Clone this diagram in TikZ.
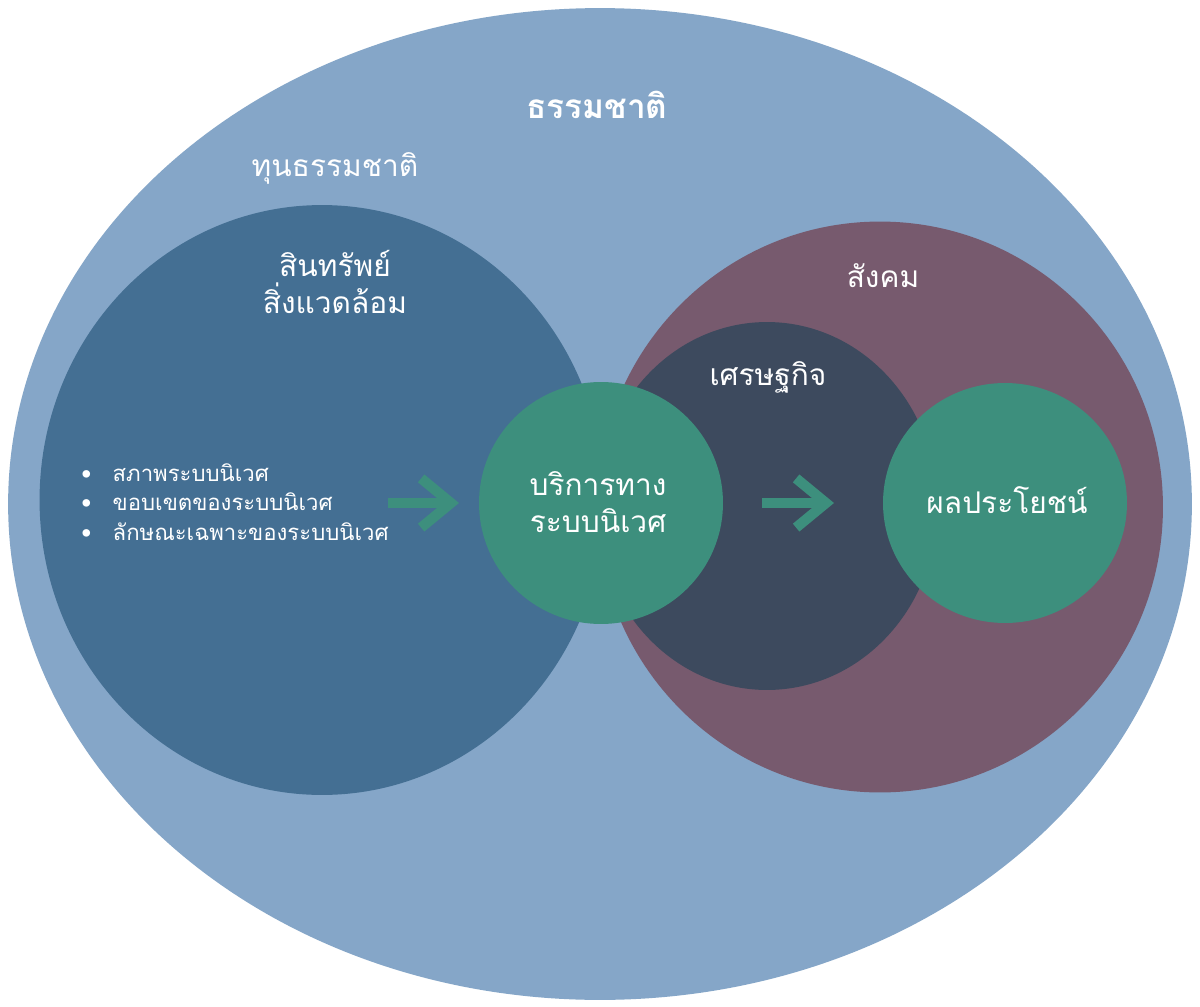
\documentclass[tikz,border=0pt]{standalone}
\usepackage{fontspec}
\usetikzlibrary{shapes.geometric,arrows.meta}
\newfontfamily\thai[Script=Thai]{Loma}
\definecolor{natbg}{HTML}{85A6C8}
\definecolor{envc}{HTML}{446F93}
\definecolor{socc}{HTML}{775A6E}
\definecolor{ecoc}{HTML}{3D4A5E}
\definecolor{grnc}{HTML}{3D8F7D}
\tikzset{
  blob/.style={ellipse, inner sep=0pt, draw=none},
  lbl/.style={text=white, font=\thai\fontsize{17pt}{21pt}\selectfont, align=center, inner sep=0pt},
  bul/.style={text=white, font=\thai\fontsize{12.6pt}{16pt}\selectfont, anchor=west, inner sep=0pt},
  flow/.style={draw=grnc, line width=5.8pt, -{Straight Barb[length=17pt,width=28pt,line width=5.8pt]}}
}
\begin{document}
\begin{tikzpicture}[x=0.02cm,y=-0.02cm]
\useasboundingbox[fill=white] (0,0) rectangle (1200,1007);
\node[blob, fill=natbg, minimum width=23.68cm, minimum height=19.84cm] (nat) at (600,504) {};
\node[blob, fill=envc, minimum width=11.3cm, minimum height=11.8cm] (env) at (322,500) {};
\node[blob, fill=socc, minimum width=11.32cm, minimum height=11.42cm] (soc) at (880,507) {};
\node[blob, fill=ecoc, minimum width=6.82cm, minimum height=7.36cm] (eco) at (767,506) {};
\node[blob, fill=grnc, minimum width=4.88cm, minimum height=4.84cm] (svc) at (601,503) {};
\node[blob, fill=grnc, minimum width=4.88cm, minimum height=4.8cm] (ben) at (1005,503) {};

\node[lbl, font=\thai\bfseries\fontsize{19pt}{23pt}\selectfont] (tnat) at (597,105) {ธรรมชาติ};
\node[lbl] (tcap) at (335,168) {ทุนธรรมชาติ};
\node[lbl] (tenv) at (335,282) {สินทรัพย์\\สิ่งแวดล้อม};
\node[lbl] (tsoc) at (883,276) {สังคม};
\node[lbl] (teco) at (768,377) {เศรษฐกิจ};
\node[lbl] (tsvc) at (598,502) {บริการทาง\\ระบบนิเวศ};
\node[lbl] (tben) at (1007,500) {ผลประโยชน์};

\node[bul] (b1) at (81,473) {\textbullet\hspace{12pt}{\thai สภาพระบบนิเวศ}};
\node[bul] (b2) at (81,502) {\textbullet\hspace{12pt}{\thai ขอบเขตของระบบนิเวศ}};
\node[bul] (b3) at (81,532) {\textbullet\hspace{12pt}{\thai ลักษณะเฉพาะของระบบนิเวศ}};

\coordinate (a1s) at (388,503);
\coordinate (a1e) at (459,503);
\coordinate (a2s) at (762,503);
\coordinate (a2e) at (834,503);
\draw[flow] (a1s) -- (a1e);
\draw[flow] (a2s) -- (a2e);
\end{tikzpicture}
\end{document}
